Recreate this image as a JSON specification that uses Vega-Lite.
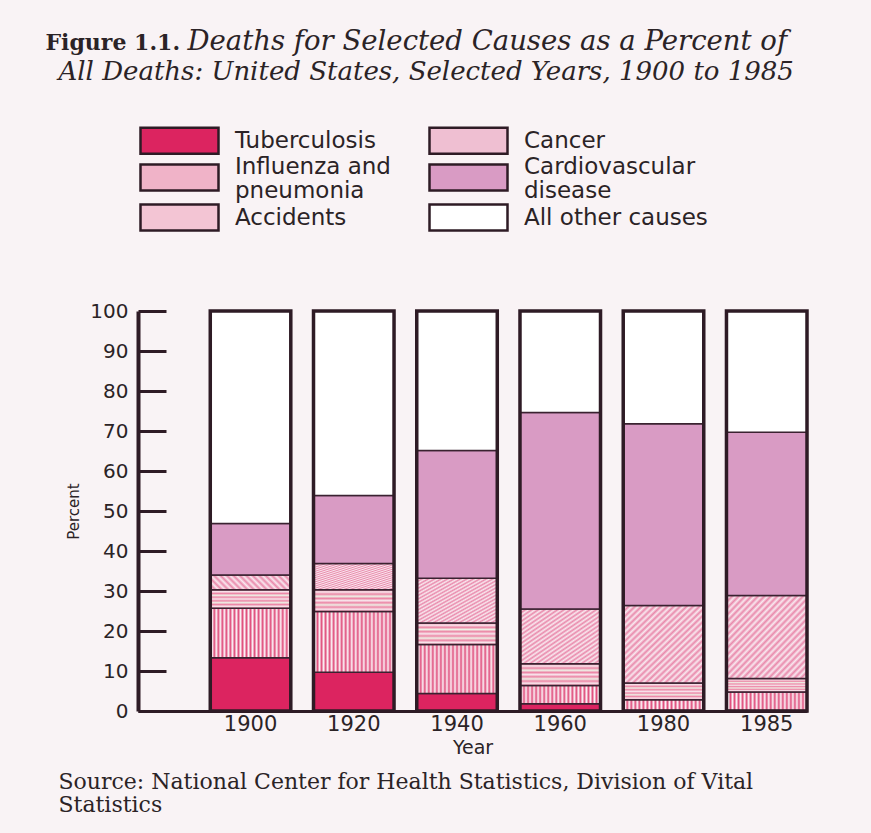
{
  "$schema": "https://vega.github.io/schema/vega-lite/v6.json",
  "width": 669,
  "height": 400,
  "autosize": {"type": "none"},
  "padding": {"left": 138, "top": 311, "right": 64, "bottom": 122},
  "background": "#f9f3f5",
  "data": {
    "values": [
      {"year": "1900", "cause": "Tuberculosis", "k": 1, "value": 13.3},
      {"year": "1900", "cause": "Influenza and pneumonia", "k": 2, "value": 12.4},
      {"year": "1900", "cause": "Accidents", "k": 3, "value": 4.6},
      {"year": "1900", "cause": "Cancer", "k": 4, "value": 3.7},
      {"year": "1900", "cause": "Cardiovascular disease", "k": 5, "value": 12.9},
      {"year": "1900", "cause": "All other causes", "k": 6, "value": 53.1},
      {"year": "1920", "cause": "Tuberculosis", "k": 1, "value": 9.7},
      {"year": "1920", "cause": "Influenza and pneumonia", "k": 2, "value": 15.2},
      {"year": "1920", "cause": "Accidents", "k": 3, "value": 5.4},
      {"year": "1920", "cause": "Cancer", "k": 4, "value": 6.6},
      {"year": "1920", "cause": "Cardiovascular disease", "k": 5, "value": 17.0},
      {"year": "1920", "cause": "All other causes", "k": 6, "value": 46.1},
      {"year": "1940", "cause": "Tuberculosis", "k": 1, "value": 4.4},
      {"year": "1940", "cause": "Influenza and pneumonia", "k": 2, "value": 12.2},
      {"year": "1940", "cause": "Accidents", "k": 3, "value": 5.4},
      {"year": "1940", "cause": "Cancer", "k": 4, "value": 11.2},
      {"year": "1940", "cause": "Cardiovascular disease", "k": 5, "value": 31.9},
      {"year": "1940", "cause": "All other causes", "k": 6, "value": 34.9},
      {"year": "1960", "cause": "Tuberculosis", "k": 1, "value": 1.8},
      {"year": "1960", "cause": "Influenza and pneumonia", "k": 2, "value": 4.6},
      {"year": "1960", "cause": "Accidents", "k": 3, "value": 5.4},
      {"year": "1960", "cause": "Cancer", "k": 4, "value": 13.7},
      {"year": "1960", "cause": "Cardiovascular disease", "k": 5, "value": 49.1},
      {"year": "1960", "cause": "All other causes", "k": 6, "value": 25.4},
      {"year": "1980", "cause": "Tuberculosis", "k": 1, "value": 0.1},
      {"year": "1980", "cause": "Influenza and pneumonia", "k": 2, "value": 2.7},
      {"year": "1980", "cause": "Accidents", "k": 3, "value": 4.2},
      {"year": "1980", "cause": "Cancer", "k": 4, "value": 19.4},
      {"year": "1980", "cause": "Cardiovascular disease", "k": 5, "value": 45.4},
      {"year": "1980", "cause": "All other causes", "k": 6, "value": 28.2},
      {"year": "1985", "cause": "Tuberculosis", "k": 1, "value": 0.1},
      {"year": "1985", "cause": "Influenza and pneumonia", "k": 2, "value": 4.65},
      {"year": "1985", "cause": "Accidents", "k": 3, "value": 3.35},
      {"year": "1985", "cause": "Cancer", "k": 4, "value": 20.8},
      {"year": "1985", "cause": "Cardiovascular disease", "k": 5, "value": 40.8},
      {"year": "1985", "cause": "All other causes", "k": 6, "value": 30.3}
    ]
  },
  "layer": [
    {
      "mark": {"type": "bar", "stroke": "#3a2230", "strokeWidth": 1.5},
      "encoding": {
        "x": {
          "field": "year",
          "type": "nominal",
          "sort": ["1900", "1920", "1940", "1960", "1980", "1985"],
          "scale": {"paddingInner": 0.22, "paddingOuter": 0.35, "align": 1},
          "axis": {
            "orient": "bottom",
            "title": "Year",
            "labelAngle": 0,
            "ticks": false,
            "domain": true,
            "domainColor": "#2e1b25",
            "domainWidth": 3,
            "labelFont": "DejaVu Sans",
            "labelFontSize": 21,
            "labelColor": "#2b2326",
            "labelPadding": 2,
            "titleFont": "DejaVu Sans",
            "titleFontSize": 19,
            "titleFontWeight": "normal",
            "titleColor": "#2b2326",
            "titlePadding": 4
          }
        },
        "y": {
          "field": "value",
          "type": "quantitative",
          "stack": "zero",
          "scale": {"domain": [0, 100], "nice": false},
          "axis": {
            "orient": "left",
            "title": "Percent",
            "values": [0, 10, 20, 30, 40, 50, 60, 70, 80, 90, 100],
            "grid": false,
            "domainColor": "#2e1b25",
            "domainWidth": 4,
            "tickColor": "#2e1b25",
            "tickWidth": 3,
            "tickSize": -28,
            "labelPadding": 38,
            "labelFont": "DejaVu Sans",
            "labelFontSize": 20,
            "labelColor": "#2b2326",
            "titleFont": "DejaVu Sans",
            "titleFontSize": 15,
            "titleFontWeight": "normal",
            "titleColor": "#2b2326",
            "titlePadding": 8
          }
        },
        "order": {"field": "k", "type": "quantitative", "sort": "ascending"},
        "fill": {
          "condition": [
            {"test": "datum.cause === 'Cancer'", "value": {"gradient": "linear", "x1": 0, "y1": 0, "x2": 1, "y2": 1, "stops": [
                {"offset": 0, "color": "#e98aac"}, {"offset": 0.02, "color": "#f9e8ef"},
                {"offset": 0.04, "color": "#e98aac"}, {"offset": 0.06, "color": "#f9e8ef"},
                {"offset": 0.08, "color": "#e98aac"}, {"offset": 0.1, "color": "#f9e8ef"},
                {"offset": 0.12, "color": "#e98aac"}, {"offset": 0.14, "color": "#f9e8ef"},
                {"offset": 0.16, "color": "#e98aac"}, {"offset": 0.18, "color": "#f9e8ef"},
                {"offset": 0.2, "color": "#e98aac"}, {"offset": 0.22, "color": "#f9e8ef"},
                {"offset": 0.24, "color": "#e98aac"}, {"offset": 0.26, "color": "#f9e8ef"},
                {"offset": 0.28, "color": "#e98aac"}, {"offset": 0.3, "color": "#f9e8ef"},
                {"offset": 0.32, "color": "#e98aac"}, {"offset": 0.34, "color": "#f9e8ef"},
                {"offset": 0.36, "color": "#e98aac"}, {"offset": 0.38, "color": "#f9e8ef"},
                {"offset": 0.4, "color": "#e98aac"}, {"offset": 0.42, "color": "#f9e8ef"},
                {"offset": 0.44, "color": "#e98aac"}, {"offset": 0.46, "color": "#f9e8ef"},
                {"offset": 0.48, "color": "#e98aac"}, {"offset": 0.5, "color": "#f9e8ef"},
                {"offset": 0.52, "color": "#e98aac"}, {"offset": 0.54, "color": "#f9e8ef"},
                {"offset": 0.56, "color": "#e98aac"}, {"offset": 0.58, "color": "#f9e8ef"},
                {"offset": 0.6, "color": "#e98aac"}, {"offset": 0.62, "color": "#f9e8ef"},
                {"offset": 0.64, "color": "#e98aac"}, {"offset": 0.66, "color": "#f9e8ef"},
                {"offset": 0.68, "color": "#e98aac"}, {"offset": 0.7, "color": "#f9e8ef"},
                {"offset": 0.72, "color": "#e98aac"}, {"offset": 0.74, "color": "#f9e8ef"},
                {"offset": 0.76, "color": "#e98aac"}, {"offset": 0.78, "color": "#f9e8ef"},
                {"offset": 0.8, "color": "#e98aac"}, {"offset": 0.82, "color": "#f9e8ef"},
                {"offset": 0.84, "color": "#e98aac"}, {"offset": 0.86, "color": "#f9e8ef"},
                {"offset": 0.88, "color": "#e98aac"}, {"offset": 0.9, "color": "#f9e8ef"},
                {"offset": 0.92, "color": "#e98aac"}, {"offset": 0.94, "color": "#f9e8ef"},
                {"offset": 0.96, "color": "#e98aac"}, {"offset": 0.98, "color": "#f9e8ef"},
                {"offset": 1, "color": "#e98aac"}
              ]}},
            {"test": "datum.cause === 'Influenza and pneumonia'", "value": {"gradient": "linear", "x1": 0, "y1": 0, "x2": 1, "y2": 0, "stops": [
                {"offset": 0, "color": "#e0507e"}, {"offset": 0.025, "color": "#fbf1f5"},
                {"offset": 0.05, "color": "#e0507e"}, {"offset": 0.075, "color": "#fbf1f5"},
                {"offset": 0.1, "color": "#e0507e"}, {"offset": 0.125, "color": "#fbf1f5"},
                {"offset": 0.15, "color": "#e0507e"}, {"offset": 0.175, "color": "#fbf1f5"},
                {"offset": 0.2, "color": "#e0507e"}, {"offset": 0.225, "color": "#fbf1f5"},
                {"offset": 0.25, "color": "#e0507e"}, {"offset": 0.275, "color": "#fbf1f5"},
                {"offset": 0.3, "color": "#e0507e"}, {"offset": 0.325, "color": "#fbf1f5"},
                {"offset": 0.35, "color": "#e0507e"}, {"offset": 0.375, "color": "#fbf1f5"},
                {"offset": 0.4, "color": "#e0507e"}, {"offset": 0.425, "color": "#fbf1f5"},
                {"offset": 0.45, "color": "#e0507e"}, {"offset": 0.475, "color": "#fbf1f5"},
                {"offset": 0.5, "color": "#e0507e"}, {"offset": 0.525, "color": "#fbf1f5"},
                {"offset": 0.55, "color": "#e0507e"}, {"offset": 0.575, "color": "#fbf1f5"},
                {"offset": 0.6, "color": "#e0507e"}, {"offset": 0.625, "color": "#fbf1f5"},
                {"offset": 0.65, "color": "#e0507e"}, {"offset": 0.675, "color": "#fbf1f5"},
                {"offset": 0.7, "color": "#e0507e"}, {"offset": 0.725, "color": "#fbf1f5"},
                {"offset": 0.75, "color": "#e0507e"}, {"offset": 0.775, "color": "#fbf1f5"},
                {"offset": 0.8, "color": "#e0507e"}, {"offset": 0.825, "color": "#fbf1f5"},
                {"offset": 0.85, "color": "#e0507e"}, {"offset": 0.875, "color": "#fbf1f5"},
                {"offset": 0.9, "color": "#e0507e"}, {"offset": 0.925, "color": "#fbf1f5"},
                {"offset": 0.95, "color": "#e0507e"}, {"offset": 0.975, "color": "#fbf1f5"},
                {"offset": 1, "color": "#e0507e"}
              ]}},
            {"test": "datum.cause === 'Accidents'", "value": {"gradient": "linear", "x1": 0, "y1": 0, "x2": 0, "y2": 1, "stops": [
                {"offset": 0, "color": "#ec86a6"}, {"offset": 0.1, "color": "#f8e6ec"},
                {"offset": 0.2, "color": "#ec86a6"}, {"offset": 0.3, "color": "#eef1e6"},
                {"offset": 0.4, "color": "#ec86a6"}, {"offset": 0.5, "color": "#f8e6ec"},
                {"offset": 0.6, "color": "#ec86a6"}, {"offset": 0.7, "color": "#eef1e6"},
                {"offset": 0.8, "color": "#ec86a6"}, {"offset": 0.9, "color": "#f8e6ec"},
                {"offset": 1, "color": "#ec86a6"}
              ]}}
          ],
          "field": "cause",
          "type": "nominal",
          "scale": {
            "domain": ["Tuberculosis", "Influenza and pneumonia", "Accidents", "Cancer", "Cardiovascular disease", "All other causes"],
            "range": ["#dc2460", "#f0b3c8", "#f3c5d4", "#efbfd2", "#d99bc4", "#ffffff"]
          },
          "legend": {
            "orient": "none",
            "legendX": 27,
            "legendY": -185,
            "columns": 2,
            "title": null,
            "symbolType": "M-3,-1H3V1H-3Z",
            "symbolSize": 676,
            "symbolStrokeColor": "#2e1b25",
            "symbolStrokeWidth": 2.5,
            "symbolOpacity": 1,
            "labelFont": "DejaVu Sans",
            "labelFontSize": 23,
            "labelColor": "#2b2326",
            "labelOffset": 41,
            "labelLimit": 400,
            "columnPadding": 33,
            "rowPadding": -4,
            "labelExpr": "datum.label == 'Influenza and pneumonia' ? ['Influenza and', 'pneumonia'] : datum.label == 'Cardiovascular disease' ? ['Cardiovascular', 'disease'] : datum.label",
            "encode": {
              "labels": {
                "update": {
                  "lineHeight": {"value": 24},
                  "dy": [
                    {"test": "datum.value === 'Influenza and pneumonia' || datum.value === 'Cardiovascular disease'", "value": -11},
                    {"value": 0}
                  ]
                }
              },
              "symbols": {
                "update": {
                  "stroke": {"value": "#2e1b25"},
                  "strokeWidth": {"value": 2.5}
                }
              }
            }
          }
        }
      }
    },
    {
      "mark": {"type": "bar", "fillOpacity": 0, "stroke": "#2e1b25", "strokeWidth": 3.5},
      "encoding": {
        "x": {
          "field": "year",
          "type": "nominal",
          "sort": ["1900", "1920", "1940", "1960", "1980", "1985"],
          "axis": {
            "orient": "bottom",
            "domain": false,
            "ticks": false,
            "labels": false,
            "title": ["Source: National Center for Health Statistics, Division of Vital", "Statistics"],
            "titleFont": "DejaVu Serif",
            "titleFontSize": 22,
            "titleFontWeight": "normal",
            "titleColor": "#2b2326",
            "titleX": -80,
            "titleY": 77,
            "titleAlign": "left",
            "titleAnchor": "start",
            "titleBaseline": "alphabetic",
            "titleLineHeight": 23
          }
        },
        "y": {
          "aggregate": "sum",
          "field": "value",
          "type": "quantitative",
          "axis": {
            "orient": "right",
            "domain": false,
            "ticks": false,
            "labels": false,
            "grid": false,
            "title": "Deaths for Selected Causes as a Percent of",
            "titleAngle": 0,
            "titleFont": "DejaVu Serif",
            "titleFontSize": 27.5,
            "titleFontStyle": "italic",
            "titleFontWeight": "normal",
            "titleColor": "#2b2326",
            "titleX": -620,
            "titleY": -262,
            "titleAlign": "left",
            "titleAnchor": "start",
            "titleBaseline": "alphabetic"
          }
        }
      }
    },
    {
      "mark": {"type": "bar", "opacity": 0},
      "encoding": {
        "x": {
          "field": "year",
          "type": "nominal",
          "sort": ["1900", "1920", "1940", "1960", "1980", "1985"],
          "axis": {
            "orient": "top",
            "domain": false,
            "ticks": false,
            "labels": false,
            "title": "Figure 1.1.",
            "titleFont": "DejaVu Serif",
            "titleFontSize": 22,
            "titleFontWeight": "bold",
            "titleColor": "#2b2326",
            "titleX": -93,
            "titleY": -262,
            "titleAlign": "left",
            "titleAnchor": "start",
            "titleBaseline": "alphabetic"
          }
        },
        "y": {
          "aggregate": "sum",
          "field": "value",
          "type": "quantitative",
          "axis": {
            "orient": "left",
            "domain": false,
            "ticks": false,
            "labels": false,
            "grid": false,
            "title": "All Deaths: United States, Selected Years, 1900 to 1985",
            "titleAngle": 0,
            "titleFont": "DejaVu Serif",
            "titleFontSize": 26,
            "titleFontStyle": "italic",
            "titleFontWeight": "normal",
            "titleColor": "#2b2326",
            "titleX": -80,
            "titleY": -232,
            "titleAlign": "left",
            "titleAnchor": "start",
            "titleBaseline": "alphabetic"
          }
        }
      }
    }
  ],
  "resolve": {"axis": {"x": "independent", "y": "independent"}},
  "config": {"view": {"stroke": null}}
}
